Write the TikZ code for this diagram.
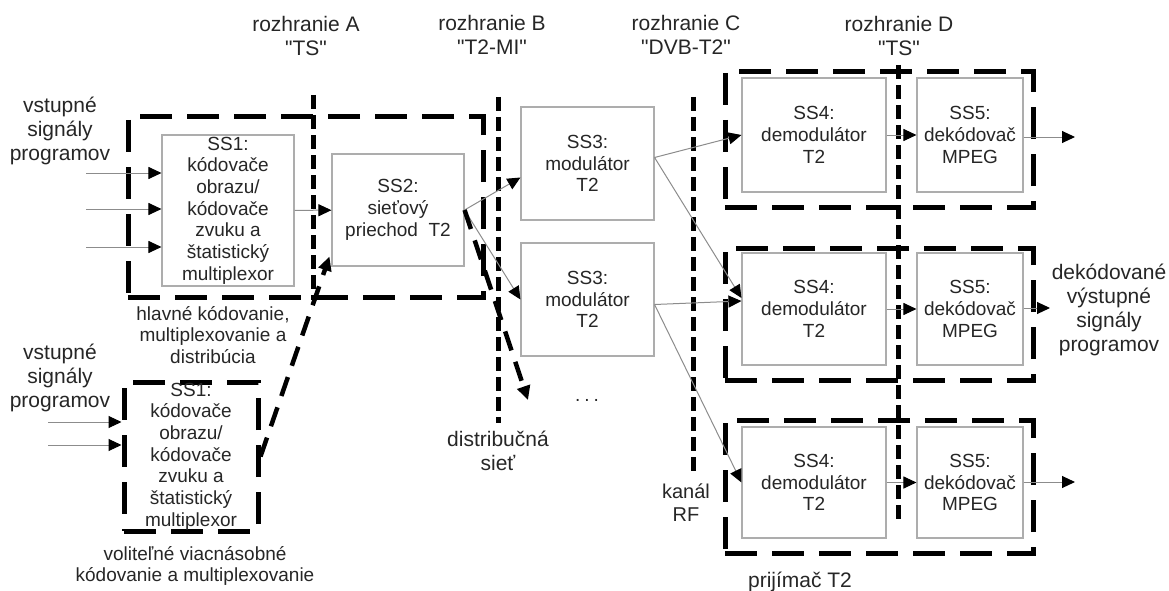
\documentclass[tikz,border=0pt]{standalone}
\usepackage{fontspec}
\setmainfont{Liberation Sans}[Ligatures=TeXOff]
\usetikzlibrary{arrows.meta,calc}
\newcommand\myfsS{\fontsize{19}{21.7}\selectfont}
\newcommand\myfsL{\fontsize{21}{24.2}\selectfont}
\begin{document}
\begin{tikzpicture}[x=1pt,y=-1pt,
  box/.style={draw=black!32, line width=1.1pt, inner sep=0pt, align=center, font=\myfsS, text=black!85},
  grp/.style={draw=black, line width=5pt, dash pattern=on 32pt off 15pt, inner sep=0pt, align=center, font=\myfsS, text=black!85},
  iface/.style={draw=black, line width=5pt, dash pattern=on 14pt off 6pt},
  arr/.style={draw=black!45, line width=1pt, -{Triangle[length=13pt,width=12pt,color=black]}},
  darr/.style={draw=black, line width=4.5pt, dash pattern=on 20pt off 12pt, -{Triangle[length=14pt,width=13pt]}},
  lblS/.style={inner sep=0pt, align=center, font=\myfsS, text=black!85},
  lblL/.style={inner sep=0pt, align=center, font=\myfsL, text=black!85}]
\useasboundingbox (0,0) rectangle (1169,591);

% group (dashed) boxes
\node[grp, minimum width=355pt, minimum height=180pt] (gmain) at (305.5,207) {};
\node[grp, minimum width=134pt, minimum height=149pt] (gopt) at (191,456.5)
  {SS1:\\kódovače\\obrazu/\\kódovače\\zvuku a\\štatistický\\multiplexor};
\node[grp, minimum width=308pt, minimum height=135pt] (grx1) at (879,139.5) {};
\node[grp, minimum width=308pt, minimum height=132pt] (grx2) at (879,314) {};
\node[grp, minimum width=308pt, minimum height=133pt] (grx3) at (879,486.5) {};

% interface lines
\coordinate (Atop) at (313,95);   \coordinate (Abot) at (313,300);
\coordinate (Btop) at (498,97);   \coordinate (Bbot) at (498,423);
\coordinate (Ctop) at (693,97);   \coordinate (Cbot) at (693,472);
\coordinate (Dtop) at (898,65);   \coordinate (Dbot) at (898,525);
\draw[iface] (Atop) -- (Abot);
\draw[iface] (Btop) -- (Bbot);
\draw[iface] (Ctop) -- (Cbot);
\draw[iface] (Dtop) -- (Dbot);

% function boxes
\node[box, minimum width=132pt, minimum height=151pt, fill=white] (ss1) at (228,210.5)
  {SS1:\\kódovače\\obrazu/\\kódovače\\zvuku a\\štatistický\\multiplexor};
\node[box, minimum width=132pt, minimum height=112pt, fill=white] (ss2) at (398,210)
  {SS2:\\sieťový\\priechod\ \ T2};
\node[box, minimum width=133pt, minimum height=113pt, fill=white] (ss3a) at (587.5,163.5)
  {SS3:\\modulátor\\T2};
\node[box, minimum width=133pt, minimum height=113pt, fill=white] (ss3b) at (587.5,299.5)
  {SS3:\\modulátor\\T2};
\node[box, minimum width=144pt, minimum height=114pt, fill=white] (ss4a) at (814,135)
  {SS4:\\demodulátor\\T2};
\node[box, minimum width=144pt, minimum height=112pt, fill=white] (ss4b) at (814,309)
  {SS4:\\demodulátor\\T2};
\node[box, minimum width=144pt, minimum height=111pt, fill=white] (ss4c) at (814,482.5)
  {SS4:\\demodulátor\\T2};
\node[box, minimum width=106pt, minimum height=114pt, fill=white] (ss5a) at (970,135)
  {SS5:\\dekódovač\\MPEG};
\node[box, minimum width=106pt, minimum height=112pt, fill=white] (ss5b) at (970,309)
  {SS5:\\dekódovač\\MPEG};
\node[box, minimum width=106pt, minimum height=111pt, fill=white] (ss5c) at (970,482.5)
  {SS5:\\dekódovač\\MPEG};

% labels
\node[lblL] (lA) at (306,36) {rozhranie A\\"TS"};
\node[lblL] (lB) at (492,35) {rozhranie B\\"T2-MI"};
\node[lblL] (lC) at (686,35) {rozhranie C\\"DVB-T2"};
\node[lblL] (lD) at (899,36) {rozhranie D\\"TS"};
\node[lblL] (in1lbl) at (60,131) {vstupné\\signály\\programov};
\node[lblL] (in2lbl) at (60,378) {vstupné\\signály\\programov};
\node[lblS] (lmain) at (213,335) {hlavné kódovanie,\\multiplexovanie a\\distribúcia};
\node[lblS] (lopt) at (195,566) {voliteľné viacnásobné\\kódovanie a multiplexovanie};
\node[lblL] (ldist) at (498,451) {distribučná\\sieť};
\node[lblS, font=\fontsize{20}{23}\selectfont] (lrf) at (686,503) {kanál\\RF};
\node[lblL] (lrx) at (800,582) {prijímač T2};
\node[lblL] (lout) at (1109,310) {dekódované\\výstupné\\signály\\programov};
\node[lblS] (dots) at (587,400) {.\hspace{4pt}.\hspace{4pt}.};

% input arrows
\coordinate (i1) at (86,173); \coordinate (i2) at (86,209); \coordinate (i3) at (86,247);
\draw[arr] (i1) -- (i1 -| ss1.west);
\draw[arr] (i2) -- (i2 -| ss1.west);
\draw[arr] (i3) -- (i3 -| ss1.west);
\coordinate (j1) at (48,422); \coordinate (j2) at (48,445);
\draw[arr] (j1) -- (j1 -| gopt.west);
\draw[arr] (j2) -- (j2 -| gopt.west);

% SS1 -> SS2 and SS2 -> SS3
\draw[arr] (ss1) -- (ss2);
\draw[arr] (ss2.east) -- ($(ss3a.west)+(0,14)$);
\draw[arr] (ss2.east) -- (ss3b.west);

% dashed arrows
\draw[darr] (gopt.east) -- ($(ss2.south west)+(-2,-10)$);
\coordinate (dend) at (528,400);
\draw[darr] (ss2.east) -- (dend);

% SS3 -> SS4
\draw[arr] ($(ss3a.east)+(0,-6)$) -- (ss4a.west);
\draw[arr] ($(ss3a.east)+(0,-6)$) -- ($(ss4b.west)+(0,-11)$);
\draw[arr] ($(ss3b.east)+(0,5)$) -- ($(ss4b.west)+(0,-8)$);
\draw[arr] ($(ss3b.east)+(0,5)$) -- (ss4c.west);

% SS4 -> SS5
\draw[arr] (ss4a) -- (ss5a);
\draw[arr] (ss4b) -- (ss5b);
\draw[arr] (ss4c) -- (ss5c);

% outputs
\coordinate (o1) at (1075,137); \coordinate (o2) at (1050,308); \coordinate (o3) at (1075,482);
\draw[arr] (o1 -| ss5a.east) -- (o1);
\draw[arr] (o2 -| ss5b.east) -- (o2);
\draw[arr] (o3 -| ss5c.east) -- (o3);
\end{tikzpicture}
\end{document}
